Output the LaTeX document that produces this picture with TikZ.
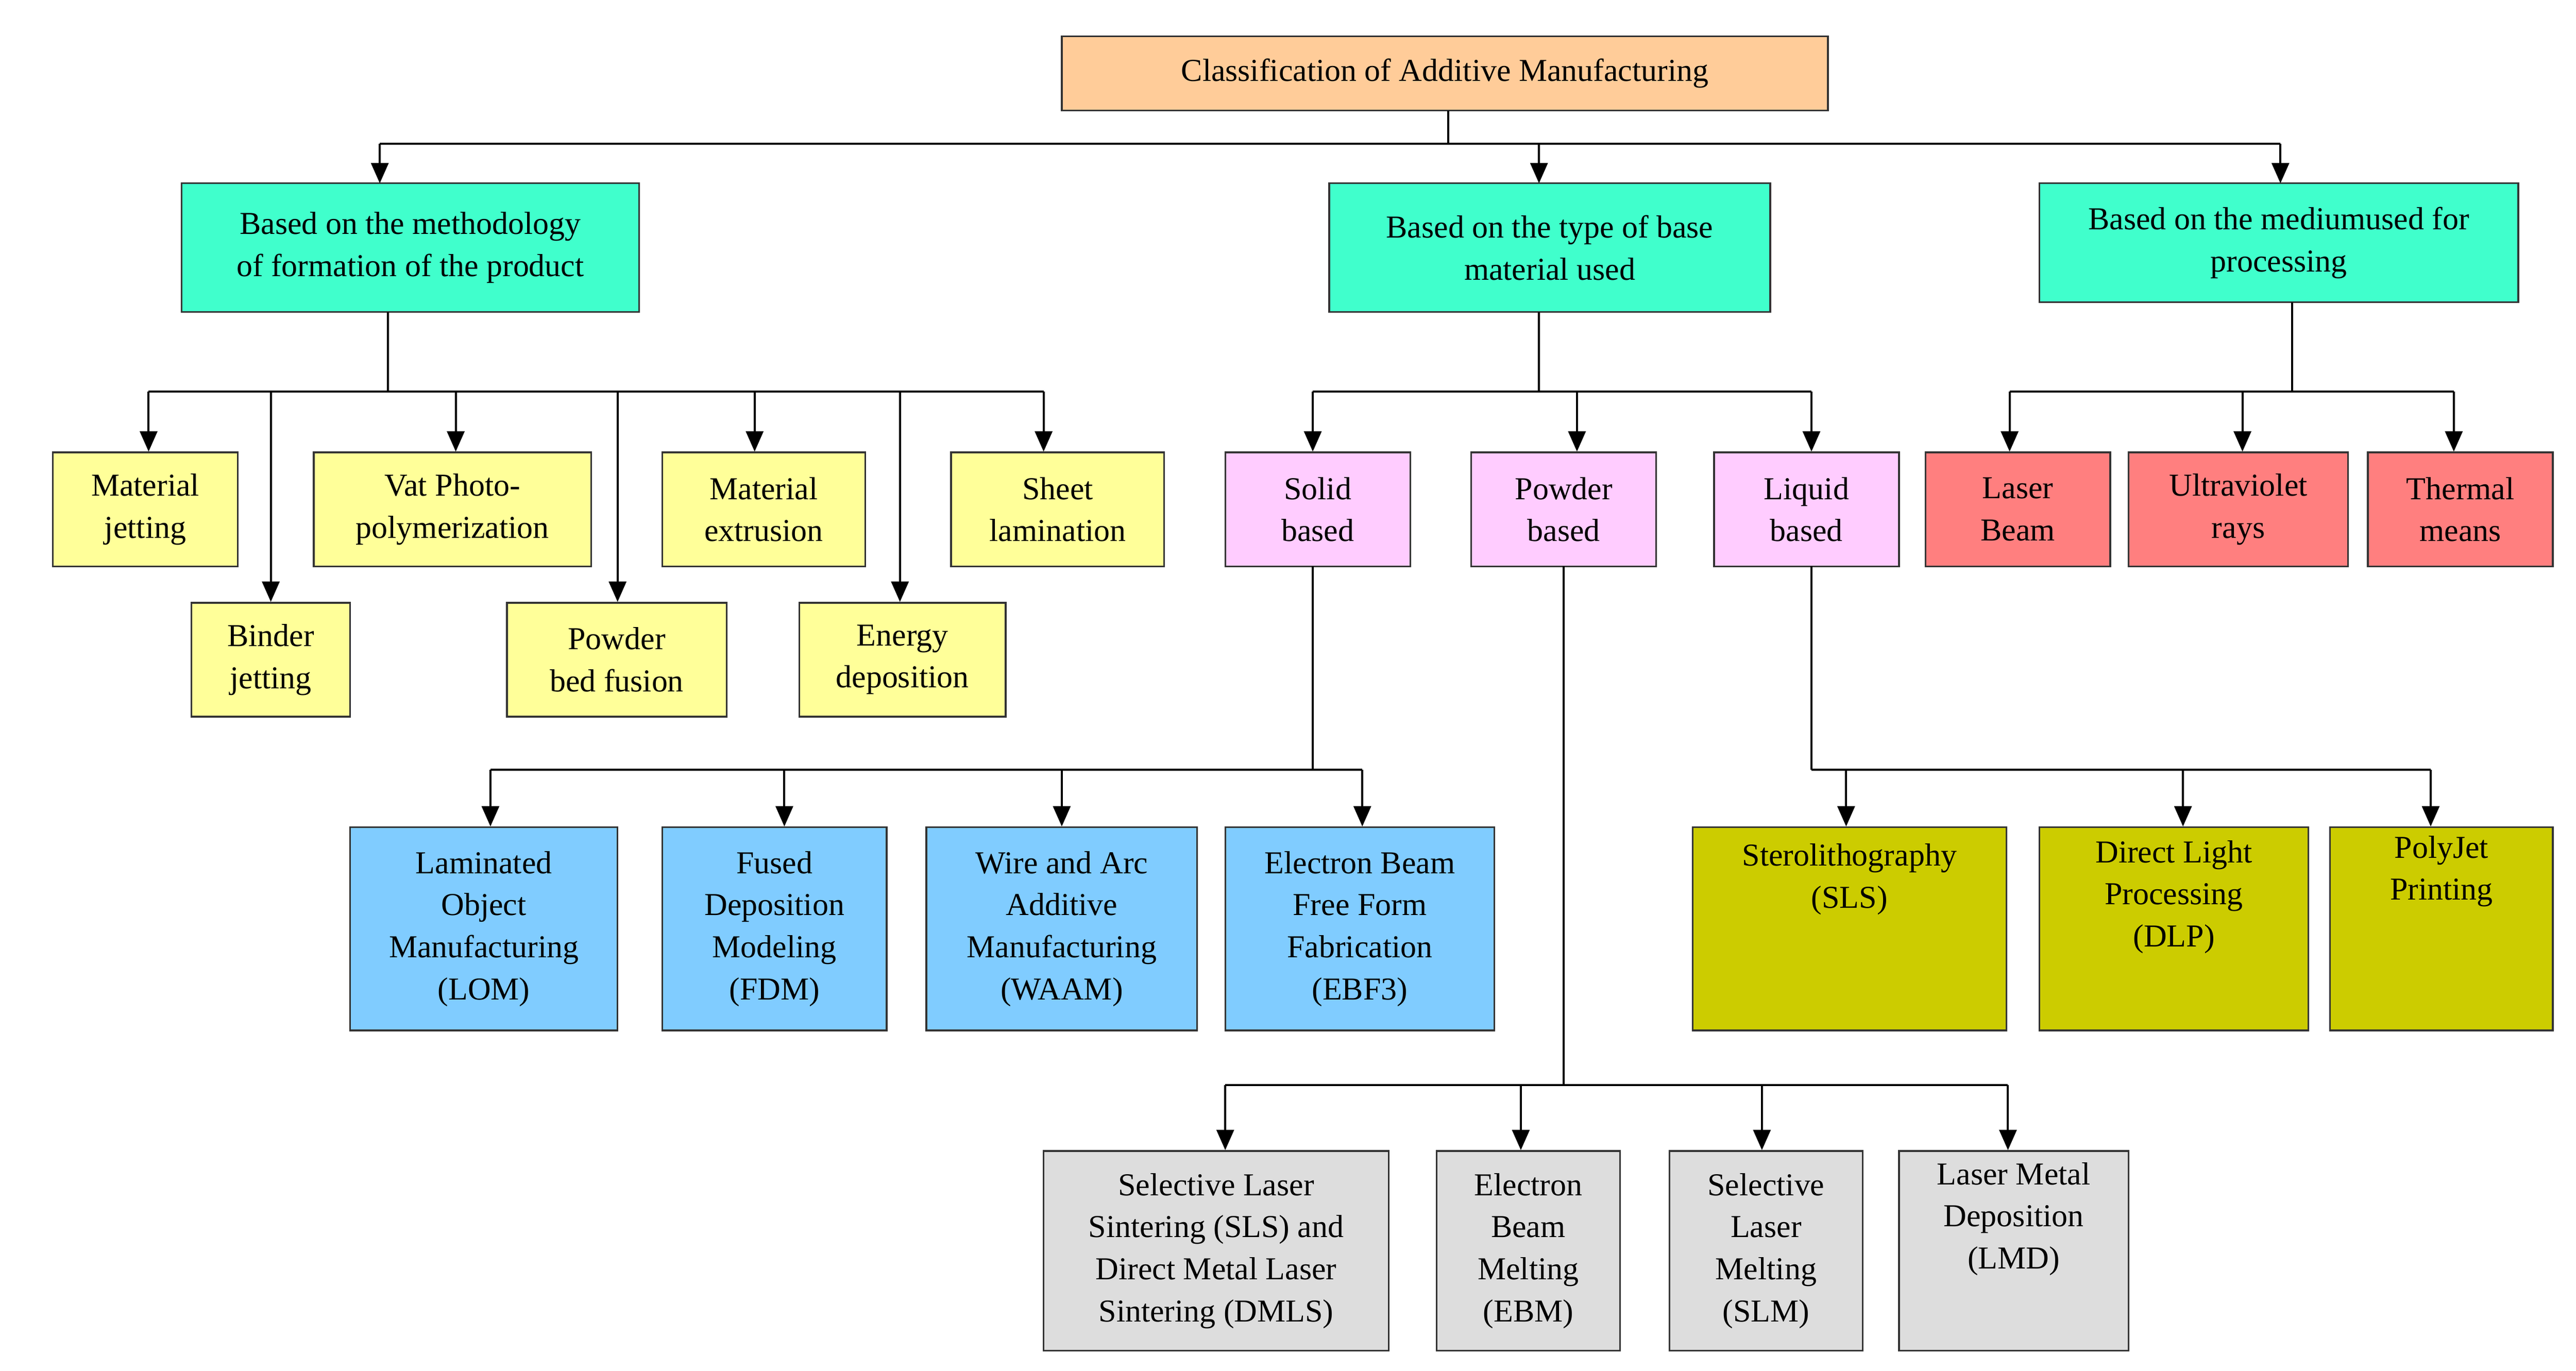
\documentclass[tikz,border=0pt]{standalone}
\usepackage{fontspec}
\setmainfont{Liberation Serif}
\usetikzlibrary{arrows.meta}
\definecolor{cOr}{HTML}{FFCC99}
\definecolor{cTq}{HTML}{40FFCC}
\definecolor{cYe}{HTML}{FFFF99}
\definecolor{cPk}{HTML}{FFCCFF}
\definecolor{cRd}{HTML}{FF7F7F}
\definecolor{cBl}{HTML}{80CCFF}
\definecolor{cOl}{HTML}{CCCC00}
\definecolor{cGr}{HTML}{DDDDDD}
\begin{document}
\begin{tikzpicture}[x=0.02cm,y=-0.02cm,
  box/.style={draw=black!80,line width=0.6pt,align=center,inner sep=0pt,
    font=\fontsize{11}{14.5}\selectfont},
  arr/.style={line width=0.7pt,-{Triangle[length=7pt,width=6pt]}},
  ln/.style={line width=0.7pt}]
\useasboundingbox (0,0) rectangle (1560,830);
\newcommand{\bx}[7]{\node[box,fill=#6,minimum width=#4*0.02cm,minimum height=#5*0.02cm] (#1) at (#2,#3) {#7};}
\bx{top}{875}{44.5}{464}{45}{cOr}{Classification of Additive Manufacturing}
\bx{A}{248.5}{150}{277}{78}{cTq}{Based on the methodology\\of formation of the product}
\bx{B}{938.5}{150}{267}{78}{cTq}{Based on the type of base\\material used}
\bx{C}{1380}{147}{290}{72}{cTq}{Based on the mediumused for\\processing}
\bx{mj}{88}{308.5}{112}{69}{cYe}{Material\\jetting}
\bx{bj}{164}{399.5}{96}{69}{cYe}{Binder\\jetting}
\bx{vp}{274}{308.5}{168}{69}{cYe}{Vat Photo-\\polymerization}
\bx{pb}{373.5}{399.5}{133}{69}{cYe}{Powder\\bed fusion}
\bx{me}{462.5}{308.5}{123}{69}{cYe}{Material\\extrusion}
\bx{ed}{546.5}{399.5}{125}{69}{cYe}{Energy\\deposition}
\bx{sl}{640.5}{308.5}{129}{69}{cYe}{Sheet\\lamination}
\bx{so}{798}{308.5}{112}{69}{cPk}{Solid\\based}
\bx{po}{947}{308.5}{112}{69}{cPk}{Powder\\based}
\bx{li}{1094}{308.5}{112}{69}{cPk}{Liquid\\based}
\bx{lb}{1222}{308.5}{112}{69}{cRd}{Laser\\Beam}
\bx{uv}{1355.5}{308.5}{133}{69}{cRd}{Ultraviolet\\rays}
\bx{tm}{1490}{308.5}{112}{69}{cRd}{Thermal\\means}
\bx{lom}{293}{562.5}{162}{123}{cBl}{Laminated\\Object\\Manufacturing\\(LOM)}
\bx{fdm}{469}{562.5}{136}{123}{cBl}{Fused\\Deposition\\Modeling\\(FDM)}
\bx{waam}{643}{562.5}{164}{123}{cBl}{Wire and Arc\\Additive\\Manufacturing\\(WAAM)}
\bx{ebf}{823.5}{562.5}{163}{123}{cBl}{Electron Beam\\Free Form\\Fabrication\\(EBF3)}
\bx{sla}{1120}{562.5}{190}{123}{cOl}{Sterolithography\\(SLS)\\[2em]}
\bx{dlp}{1316.5}{562.5}{163}{123}{cOl}{Direct Light\\Processing\\(DLP)\\[0.9em]}
\bx{pj}{1478.5}{562.5}{135}{123}{cOl}{PolyJet\\Printing\\[2.5em]}
\bx{dmls}{736.5}{757.5}{209}{121}{cGr}{Selective Laser\\Sintering (SLS) and\\Direct Metal Laser\\Sintering (DMLS)}
\bx{ebm}{925.5}{757.5}{111}{121}{cGr}{Electron\\Beam\\Melting\\(EBM)}
\bx{slm}{1069.5}{757.5}{117}{121}{cGr}{Selective\\Laser\\Melting\\(SLM)}
\bx{lmd}{1219.5}{757.5}{139}{121}{cGr}{Laser Metal\\Deposition\\(LMD)\\[0.9em]}
% top level
\coordinate (t0) at (877,87);
\draw[ln] (877,67) -- (t0);
\draw[ln] (230,87) -- (1381,87);
\draw[arr] (230,87) -- (230,111);
\draw[arr] (932,87) -- (932,111);
\draw[arr] (1381,87) -- (1381,111);
% A children
\draw[ln] (235,189) -- (235,237);
\draw[ln] (90,237) -- (632,237);
\foreach \x/\n in {90/mj,164/bj,276/vp,374/pb,457/me,545/ed,632/sl}
  \draw[arr] (\x,237) -- (\x,0 |- \n.north);
% B children
\draw[ln] (932,189) -- (932,237);
\draw[ln] (795,237) -- (1097,237);
\foreach \x/\n in {795/so,955/po,1097/li}
  \draw[arr] (\x,237) -- (\x,0 |- \n.north);
% C children
\draw[ln] (1388,183) -- (1388,237);
\draw[ln] (1217,237) -- (1486,237);
\foreach \x/\n in {1217/lb,1358/uv,1486/tm}
  \draw[arr] (\x,237) -- (\x,0 |- \n.north);
% solid
\draw[ln] (795,343) -- (795,466);
\draw[ln] (297,466) -- (825,466);
\foreach \x/\n in {297/lom,475/fdm,643/waam,825/ebf}
  \draw[arr] (\x,466) -- (\x,0 |- \n.north);
% liquid
\draw[ln] (1097,343) -- (1097,466);
\draw[ln] (1097,466) -- (1472,466);
\foreach \x/\n in {1118/sla,1322/dlp,1472/pj}
  \draw[arr] (\x,466) -- (\x,0 |- \n.north);
% powder
\draw[ln] (947,343) -- (947,657);
\draw[ln] (742,657) -- (1216,657);
\foreach \x/\n in {742/dmls,921/ebm,1067/slm,1216/lmd}
  \draw[arr] (\x,657) -- (\x,0 |- \n.north);
\end{tikzpicture}
\end{document}
